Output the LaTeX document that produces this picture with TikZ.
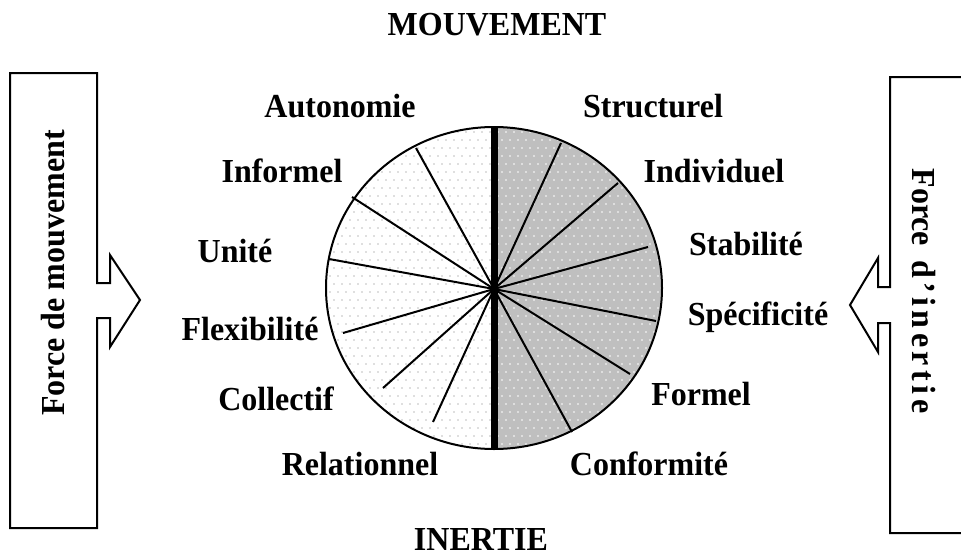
\documentclass[tikz,border=0pt]{standalone}
\usepackage{fontspec}
\setmainfont{Liberation Serif}
\begin{document}
\begin{tikzpicture}[x=1pt,y=-1pt,
  lbl/.style={font=\bfseries\fontsize{32}{36}\selectfont, inner sep=0pt, anchor=base},
  boxline/.style={line width=2pt, line join=miter},
  ray/.style={line width=2pt}]
\useasboundingbox (0,0) rectangle (961,557);
\definecolor{halfgray}{gray}{0.75}
\definecolor{dotgray}{gray}{0.75}
\coordinate (C) at (494,289);
% left half
\begin{scope}
  \clip (494,288) ellipse [x radius=168pt, y radius=161pt];
  \clip (300,100) rectangle (494,470);
  \fill[white] (300,100) rectangle (494,470);
  \fill[dotgray] \foreach \j in {0,...,42} { \foreach \i in {0,...,44} {
     ({326+\i*8+mod(\j,2)*4},{124+\j*8}) circle (0.9pt) } };
\end{scope}
% right half
\begin{scope}
  \clip (494,288) ellipse [x radius=168pt, y radius=161pt];
  \clip (494,100) rectangle (700,470);
  \fill[halfgray] (494,100) rectangle (700,470);
  \fill[white] \foreach \j in {0,...,42} { \foreach \i in {0,...,44} {
     ({326+\i*8+mod(\j,2)*4},{124+\j*8}) circle (0.9pt) } };
\end{scope}
% rays
\foreach \p in {(416,148),(352,197),(329,259),(343,333),(383,388),(433,422),
                (561,143),(618,183),(648,247),(656,321),(630,374),(572,432)}
  \draw[ray] (C) -- \p;
\draw[line width=2pt] (494,288) ellipse [x radius=168pt, y radius=161pt];
\draw[line width=7pt] (494,127) -- (494,449);
% left box with arrow
\draw[boxline] (10,73) -- (97,73) -- (97,283) -- (110,283) -- (110,255) -- (140,300)
  -- (110,347) -- (110,318) -- (97,318) -- (97,528) -- (10,528) -- cycle;
\node[lbl, anchor=center, rotate=90] (fm) at (53,273) {\scalebox{1}[1.05]{Force de mouvement}};
% right box with arrow
\draw[boxline] (970,77) -- (890,77) -- (890,287) -- (878,287) -- (878,258) -- (850,305)
  -- (878,352) -- (878,323) -- (890,323) -- (890,533) -- (970,533);
\node[lbl, anchor=center, rotate=-90] (fi) at (924,291)
  {\scalebox{1}[1.05]{Force\kern6pt\ d\kern4.5pt’\kern4.5pt i\kern4.5pt n\kern4.5pt e\kern4.5pt r\kern4.5pt t\kern4.5pt i\kern4.5pt e}};
% titles
\node[lbl] (mouv) at (497,35) {\scalebox{1}[1.05]{MOUVEMENT}};
\node[lbl] (inert) at (481,550) {\scalebox{1}[1.05]{INERTIE}};
% labels
\node[lbl] (a1) at (340,117) {\scalebox{1}[1.05]{Autonomie}};
\node[lbl] (a2) at (282,182) {\scalebox{1}[1.05]{Informel}};
\node[lbl] (a3) at (235,262) {\scalebox{1}[1.05]{Unité}};
\node[lbl] (a4) at (250,340) {\scalebox{1}[1.05]{Flexibilité}};
\node[lbl] (a5) at (276,410) {\scalebox{1}[1.05]{Collectif}};
\node[lbl] (a6) at (360,475) {\scalebox{1}[1.05]{Relationnel}};
\node[lbl] (b1) at (653,117) {\scalebox{1}[1.05]{Structurel}};
\node[lbl] (b2) at (714,182) {\scalebox{1}[1.05]{Individuel}};
\node[lbl] (b3) at (746,255) {\scalebox{1}[1.05]{Stabilité}};
\node[lbl] (b4) at (758,325) {\scalebox{1}[1.05]{Spécificité}};
\node[lbl] (b5) at (701,405) {\scalebox{1}[1.05]{Formel}};
\node[lbl] (b6) at (649,475) {\scalebox{1}[1.05]{Conformité}};
\end{tikzpicture}
\end{document}
